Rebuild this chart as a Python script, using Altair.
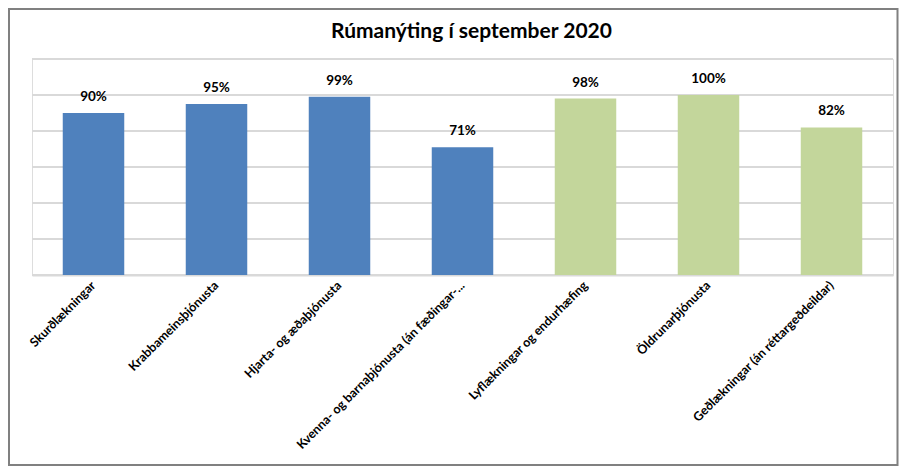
import altair as alt
import pandas as pd

title_text = "Rúmanýting í september 2020"
categories = [
    "Skurðlækningar",
    "Krabbameinsþjónusta",
    "Hjarta- og æðaþjónusta",
    "Kvenna- og barnaþjónusta (án fæðingar-...",
    "Lyflækningar og endurhæfing",
    "Öldrunarþjónusta",
    "Geðlækningar (án réttargeðdeildar)",
]
values = [0.90, 0.95, 0.99, 0.71, 0.98, 1.00, 0.82]
groups = ["a", "a", "a", "a", "b", "b", "b"]
labels = ["90%", "95%", "99%", "71%", "98%", "100%", "82%"]
grid_values = [0, 0.2, 0.4, 0.6, 0.8, 1.0, 1.2]

df = pd.DataFrame({"cat": categories, "val": values, "grp": groups, "lab": labels})
grid_df = pd.DataFrame({"g": grid_values})
title_df = pd.DataFrame({"t": [title_text]})

FONT = "Lato"

x = alt.X(
    "cat:N",
    sort=categories,
    title=None,
    scale=alt.Scale(paddingInner=0.5, paddingOuter=0.25),
    axis=alt.Axis(
        labelAngle=-45,
        labelAlign="right",
        labelBaseline="middle",
        labelPadding=8,
        labelFont=FONT,
        labelFontSize=12.5,
        labelFontWeight="bold",
        labelColor="#000000",
        labelLimit=400,
        labelOverlap=False,
        ticks=False,
        grid=False,
        domain=True,
        domainColor="#D9D9D9",
        domainWidth=2,
    ),
)
y_scale = alt.Scale(domain=[0, 1.2], nice=False)

grid = alt.Chart(grid_df).mark_rule(color="#D9D9D9", strokeWidth=2).encode(
    y=alt.Y("g:Q", scale=y_scale, axis=None),
)

bars = alt.Chart(df).mark_bar().encode(
    x=x,
    y=alt.Y("val:Q", title=None, scale=y_scale, axis=None),
    color=alt.Color(
        "grp:N",
        scale=alt.Scale(domain=["a", "b"], range=["#4F81BD", "#C3D69B"]),
        legend=None,
    ),
)

text = alt.Chart(df).mark_text(
    baseline="bottom", dy=-9, font=FONT, fontSize=13.5, fontWeight="bold", color="#000000"
).encode(
    x=alt.X("cat:N", sort=categories),
    y=alt.Y("val:Q", scale=y_scale, axis=None),
    text="lab:N",
)

title = alt.Chart(title_df).mark_text(
    font=FONT, fontSize=21, fontWeight="bold", color="#000000", baseline="middle", align="center"
).encode(x=alt.value(439.5), y=alt.value(-27), text="t:N")

border = alt.Chart(title_df).mark_rect(
    fill=None, stroke="#808080", strokeWidth=2
).encode(
    x=alt.value(-23), x2=alt.value(865.5), y=alt.value(-50), y2=alt.value(406)
)

chart = (
    alt.layer(grid, bars, text, title, border)
    .properties(
        width=861,
        height=216,
        autosize=alt.AutoSizeParams(type="none"),
        padding={"left": 24, "top": 51, "right": 6, "bottom": 191},
    )
    .configure_view(strokeWidth=0, stroke="transparent", fill="white")
    .configure(background="white")
)

chart.save("out.html", embed_options={"renderer": "svg", "actions": False})
